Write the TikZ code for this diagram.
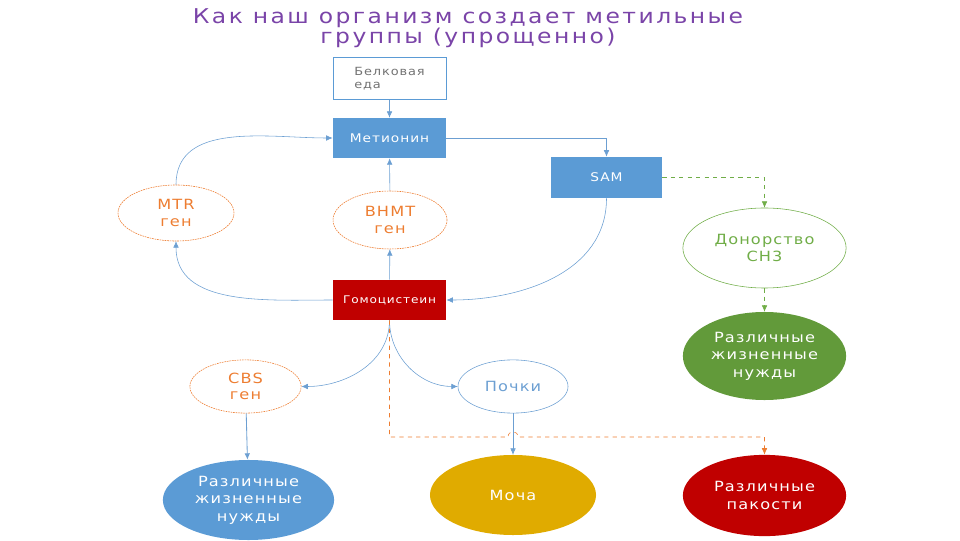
\documentclass[tikz,border=0pt]{standalone}
\usepackage{fontspec}
\setmainfont{DejaVu Sans}[FakeStretch=1.15,LetterSpace=8]
\usetikzlibrary{arrows.meta,positioning,shapes.geometric}
\definecolor{boxblue}{HTML}{5B9BD5}
\definecolor{lineblue}{HTML}{6C9FD2}
\definecolor{homored}{HTML}{C00000}
\definecolor{geneorange}{HTML}{ED7D31}
\definecolor{donorgreen}{HTML}{70AD47}
\definecolor{needgreen}{HTML}{629A3A}
\definecolor{urinegold}{HTML}{E0AB00}
\definecolor{titlepurple}{HTML}{7A44A8}
\tikzset{
    titletext/.style={align=center,text=titlepurple,font=\fontsize{14.5}{14.5}\selectfont\addfontfeature{LetterSpace=12}},
    foodbox/.style={rectangle,draw=boxblue,thin,fill=white,text=black!55,align=left,minimum width=2.83cm,minimum height=1.05cm,font=\fontsize{8}{9.5}\selectfont},
    metabox/.style={rectangle,fill=boxblue,text=white,align=center,minimum width=2.83cm,minimum height=1cm,font=\fontsize{8.5}{10}\selectfont},
    homobox/.style={metabox,fill=homored,font=\fontsize{7.5}{8}\selectfont},
    genenode/.style={ellipse,draw=geneorange,thin,dash pattern=on 1.2pt off 0.6pt,text=geneorange,align=center,inner sep=0pt,minimum width=2.9cm,minimum height=1.4cm,font=\fontsize{10}{11.5}\selectfont},
    kidneynode/.style={genenode,draw=lineblue,solid,text=lineblue},
    donornode/.style={genenode,draw=donorgreen,solid,text=donorgreen,minimum width=4.08cm,minimum height=2cm},
    outcome/.style={ellipse,align=center,inner sep=0pt,text=white,minimum width=4.1cm,minimum height=2cm,font=\fontsize{10}{12.4}\selectfont},
    metaline/.style={-{Latex[length=1.6mm,width=1.4mm]},draw=lineblue,thin},
    donorline/.style={-{Latex[length=1.6mm,width=1.4mm]},draw=donorgreen,thin,dashed},
    harmline/.style={-{Latex[length=1.6mm,width=1.4mm]},draw=geneorange,thin,dashed}
}

\begin{document}
\begin{tikzpicture}[x=0.025cm,y=0.025cm]
    \useasboundingbox (0,0) rectangle (960,540);
    \node[titletext] (title) at (468,512) {Как наш организм создает метильные\\группы (упрощенно)};
    % main cycle
    \node[metabox] (met) at (389.5,402) {Метионин};
    \node[foodbox,above=18*0.025cm of met] (food) {Белковая\\еда};
    \node[metabox,minimum width=2.78cm,minimum height=1.03cm] (sam) at (606.5,362.5) {SAM};
    \node[genenode] (mtr) at (176,327) {MTR\\ген};
    \node[genenode,minimum width=2.85cm,minimum height=1.45cm] (bhmt) at (390,320) {BHMT\\ген};
    \node[homobox] (homo) at (389.5,240) {Гомоцистеин};
    % methyl donor branch
    \node[donornode] (donor) at (764.5,292) {Донорство\\CH3};
    \node[outcome,fill=needgreen,minimum width=4.08cm,minimum height=2.2cm] (needs1) at (764.5,184) {Различные\\жизненные\\нужды};
    % homocysteine exits
    \node[genenode,minimum width=2.78cm,minimum height=1.33cm] (cbs) at (245.5,153.5) {CBS\\ген};
    \node[kidneynode,minimum width=2.75cm,minimum height=1.33cm] (kidney) at (513,153.5) {Почки};
    \node[outcome,fill=boxblue,minimum width=4.28cm] (needs2) at (248.5,40) {Различные\\жизненные\\нужды};
    \node[outcome,fill=urinegold,minimum width=4.15cm] (urine) at (513,45) {Моча};
    \node[outcome,fill=homored,minimum width=4.08cm,minimum height=2.03cm] (harm) at (764.5,44.5) {Различные\\пакости};
    \coordinate (hopl) at (508,103);
    \coordinate (hopr) at (518,103);

    \draw[metaline] (food) -- (met);
    \draw[metaline] (met.east) -| (sam.north);
    \draw[metaline] (sam.south) to[out=-90,in=0] (homo.east);
    \draw[metaline] (homo) -- (bhmt);
    \draw[metaline] (bhmt) -- (met);
    \draw[metaline] (homo.west) to[out=180,in=-90] (mtr.south);
    \draw[metaline] (mtr.north) to[out=90,in=180] (met.west);
    \draw[donorline] (sam.east) -| (donor.north);
    \draw[donorline] (donor) -- (needs1);
    \draw[metaline] (homo.south) to[out=-90,in=0] (cbs.east);
    \draw[metaline] (homo.south) to[out=-90,in=180] (kidney.west);
    \draw[metaline,semithick] (cbs) -- (needs2);
    \draw[metaline] (kidney) -- (urine);
    \draw[harmline] (homo.south) |- (hopl) .. controls +(0,7) and +(0,7) .. (hopr) -| (harm.north);
\end{tikzpicture}
\end{document}
